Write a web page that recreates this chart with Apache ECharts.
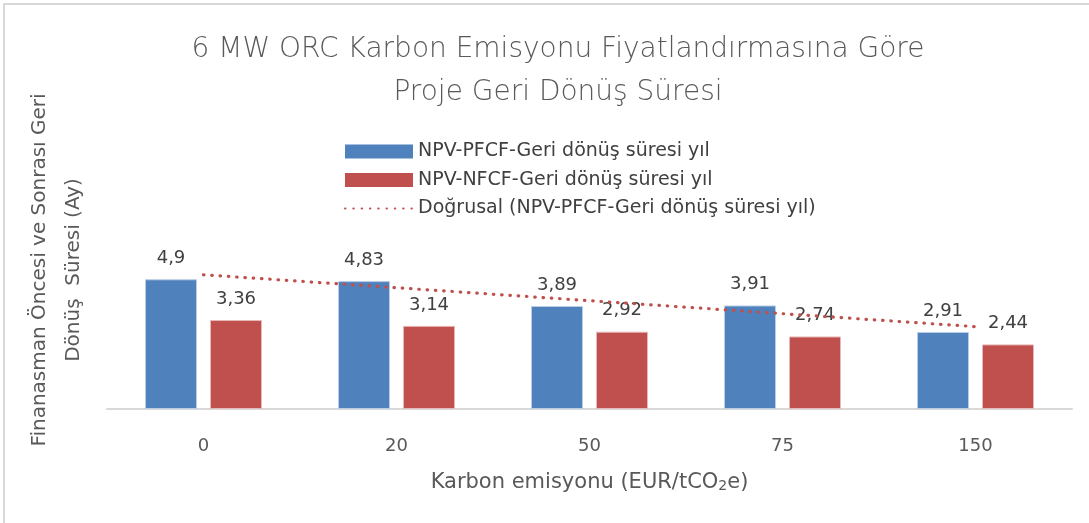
<!DOCTYPE html>
<html>
<head>
<meta charset="utf-8">
<script src="https://cdn.jsdelivr.net/npm/echarts@6/dist/echarts.min.js"></script>
<style>
  html, body { margin: 0; padding: 0; background: #fff; }
  #main { width: 1089px; height: 523px; }
</style>
</head>
<body>
<div id="main"></div>
<script>
var kategoriler = ['0', '20', '50', '75', '150'];
var pfcf = [4.9, 4.83, 3.89, 3.91, 2.91];
var nfcf = [3.36, 3.14, 2.92, 2.74, 2.44];
// dogrusal egilim cizgisi
var trend = [5.07, 4.58, 4.09, 3.60, 3.11];

var fontAd = '"DejaVu Sans", "Noto Sans", sans-serif';

function virgul(p) {
  return String(p.value).replace('.', ',');
}

var chart = echarts.init(document.getElementById('main'));
var option = {
  backgroundColor: '#fff',
  textStyle: { fontFamily: fontAd },
  title: {
    text: '6 MW ORC Karbon Emisyonu Fiyatlandırmasına Göre\nProje Geri Dönüş Süresi',
    left: 553,
    textAlign: 'center',
    top: 23,
    textStyle: {
      color: '#595959',
      fontSize: 28,
      fontWeight: 200,
      lineHeight: 43,
      fontFamily: fontAd
    }
  },
  graphic: [{
    type: 'rect',
    shape: { x: 4, y: 4, width: 1200, height: 700 },
    style: { fill: 'none', stroke: '#d9d9d9', lineWidth: 2 },
    silent: true
  }],
  legend: {
    orient: 'vertical',
    left: 344,
    top: 142,
    padding: 0,
    itemWidth: 68,
    itemHeight: 14,
    itemGap: 9.5,
    itemStyle: { borderWidth: 0 },
    textStyle: { color: '#404040', fontSize: 19 },
    data: [
      { name: 'NPV-PFCF-Geri dönüş süresi yıl', icon: 'rect' },
      { name: 'NPV-NFCF-Geri dönüş süresi yıl', icon: 'rect' },
      { name: 'Doğrusal (NPV-PFCF-Geri dönüş süresi yıl)', itemStyle: { opacity: 0 } }
    ]
  },
  grid: {
    left: 107,
    right: 17,
    top: 131,
    bottom: 114,
    containLabel: false,
    outerBoundsMode: 'none'
  },
  xAxis: {
    type: 'category',
    data: kategoriler,
    axisLine: { lineStyle: { color: '#d9d9d9', width: 2 } },
    axisTick: { show: false },
    axisLabel: { color: '#595959', fontSize: 18, margin: 28 },
    name: '{a|Karbon emisyonu (EUR/tCO}{s|2}{a|e)}',
    nameLocation: 'middle',
    nameGap: 58,
    nameTextStyle: {
      rich: {
        a: { color: '#595959', fontSize: 21, fontFamily: fontAd, verticalAlign: 'bottom', lineHeight: 26 },
        s: { color: '#595959', fontSize: 14, fontFamily: fontAd, verticalAlign: 'bottom', lineHeight: 12 }
      }
    }
  },
  yAxis: {
    type: 'value',
    min: 0,
    max: 10.5,
    axisLine: { show: false },
    axisTick: { show: false },
    axisLabel: { show: false },
    splitLine: { show: false },
    name: 'Finanasman Öncesi ve Sonrası Geri\nDönüş  Süresi (Ay)',
    nameLocation: 'middle',
    nameGap: 16,
    nameTextStyle: { color: '#595959', fontSize: 20, lineHeight: 34 }
  },
  series: [{
    name: 'NPV-PFCF-Geri dönüş süresi yıl',
    type: 'bar',
    data: pfcf,
    barWidth: 52,
    barGap: '25%',
    itemStyle: { color: '#4F81BD', borderColor: '#b9cde5', borderWidth: 1 },
    label: {
      show: true,
      position: 'top',
      distance: 12,
      color: '#404040',
      fontSize: 18,
      formatter: virgul
    }
  }, {
    name: 'NPV-NFCF-Geri dönüş süresi yıl',
    type: 'bar',
    data: nfcf,
    barWidth: 52,
    barGap: '25%',
    itemStyle: { color: '#C0504D', borderColor: '#e6b9b8', borderWidth: 1 },
    label: {
      show: true,
      position: 'top',
      distance: 12,
      color: '#404040',
      fontSize: 18,
      formatter: virgul
    }
  }, {
    name: 'Doğrusal (NPV-PFCF-Geri dönüş süresi yıl)',
    type: 'line',
    data: trend,
    showSymbol: false,
    symbol: 'none',
    z: 5,
    lineStyle: {
      color: '#C0504D',
      width: 3.2,
      type: [0.5, 7.8],
      cap: 'round'
    },
    itemStyle: { color: '#C0504D' }
  }]
};
chart.setOption(option);
</script>
</body>
</html>
